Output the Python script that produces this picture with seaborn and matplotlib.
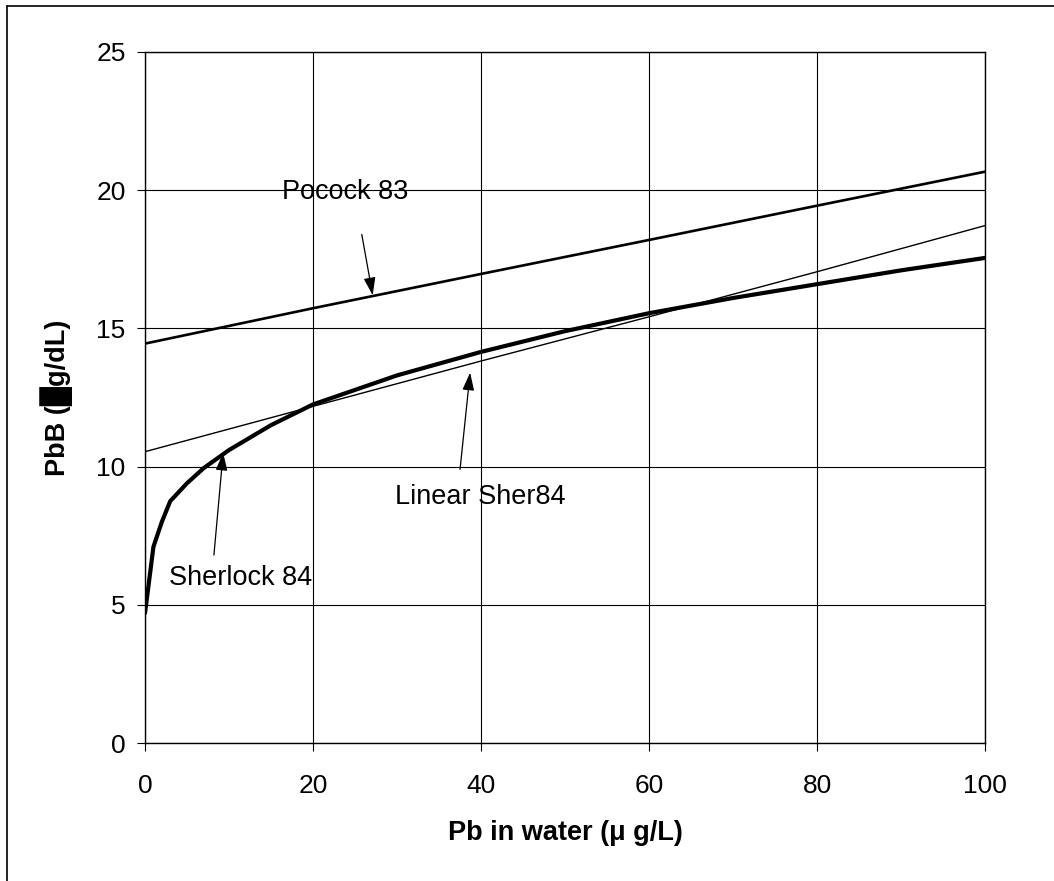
import matplotlib
matplotlib.use("Agg")
import matplotlib.pyplot as plt
import seaborn as sns
import pandas as pd
from matplotlib.lines import Line2D

# Pb in water (ug/L) vs blood lead (ug/dL)
sherlock_x = [0, 1, 2, 3, 5, 7, 10, 15, 20, 30, 40, 50, 60, 70, 80, 90, 100]
sherlock_y = [4.7, 7.1, 8.0, 8.75, 9.4, 9.95, 10.6, 11.5, 12.25, 13.3, 14.15,
              14.9, 15.55, 16.1, 16.6, 17.1, 17.55]
pocock_x = [0, 20, 40, 60, 80, 100]
pocock_y = [14.45, 15.73, 16.97, 18.2, 19.44, 20.67]
linear_x = [0, 20, 40, 60, 80, 100]
linear_y = [10.54, 12.18, 13.82, 15.42, 17.05, 18.72]

x_ticks = [0, 20, 40, 60, 80, 100]
y_ticks = [0, 5, 10, 15, 20, 25]

sns.set_theme(style="whitegrid")
plt.rcParams['font.family'] = ['Liberation Sans', 'DejaVu Sans']
plt.rcParams['text.color'] = 'black'
plt.rcParams['axes.labelcolor'] = 'black'


def main():
    fig = plt.figure(figsize=(10.54, 8.81), dpi=100)
    ax = fig.add_axes([0.1376, 0.1566, 0.797, 0.7844])

    df_sher = pd.DataFrame({'x': sherlock_x, 'y': sherlock_y})
    df_poc = pd.DataFrame({'x': pocock_x, 'y': pocock_y})
    df_lin = pd.DataFrame({'x': linear_x, 'y': linear_y})

    sns.lineplot(data=df_poc, x='x', y='y', ax=ax, color='black', linewidth=1.9)
    sns.lineplot(data=df_lin, x='x', y='y', ax=ax, color='black', linewidth=1.0)
    sns.lineplot(data=df_sher, x='x', y='y', ax=ax, color='black', linewidth=3.0)

    ax.set_xlim(0, 100)
    ax.set_ylim(0, 25)
    ax.set_xticks(x_ticks)
    ax.set_yticks(y_ticks)
    ax.set_facecolor('white')
    ax.grid(True, color='black', linewidth=0.8)
    for sp in ax.spines.values():
        sp.set_color('black')
        sp.set_linewidth(1.0)
    ax.tick_params(axis='both', which='major', labelsize=19, colors='black',
                   labelcolor='black', length=6, width=0.8, direction='out')
    ax.tick_params(axis='x', pad=16, bottom=True)
    ax.tick_params(axis='y', pad=8, left=True)

    ax.set_xlabel('Pb in water (\u03bc g/L)', fontsize=19.5, fontweight='bold')
    ax.set_ylabel('PbB (\u2588g/dL)', fontsize=19.5, fontweight='bold')
    ax.xaxis.set_label_coords(0.5, -0.13)
    ax.xaxis.label.set_va('center')
    ax.yaxis.set_label_coords(-0.105, 0.5)
    ax.yaxis.label.set_va('center')

    arrow = dict(arrowstyle='-|>,head_length=0.6,head_width=0.2', color='black',
                 lw=0.9, mutation_scale=18, shrinkA=0, shrinkB=0)
    ax.annotate('', xy=(27.1, 16.2), xytext=(25.8, 18.4), arrowprops=arrow)
    ax.annotate('', xy=(38.7, 13.4), xytext=(37.5, 9.9), arrowprops=arrow)
    ax.annotate('', xy=(9.3, 10.5), xytext=(8.2, 6.8), arrowprops=arrow)

    ax.text(16.3, 19.93, 'Pocock 83', fontsize=19.5, ha='left', va='center')
    ax.text(29.8, 8.9, 'Linear Sher84', fontsize=19.5, ha='left', va='center')
    ax.text(2.86, 5.97, 'Sherlock 84', fontsize=19.5, ha='left', va='center')

    # scanned page frame (left and top edges only)
    fig.add_artist(Line2D([7 / 1054, 7 / 1054], [0, 1 - 6 / 881],
                          transform=fig.transFigure, color='black', lw=1.2))
    fig.add_artist(Line2D([7 / 1054, 1], [1 - 6 / 881, 1 - 6 / 881],
                          transform=fig.transFigure, color='black', lw=1.2))

    fig.savefig('out.png', dpi=100, facecolor='white')
    plt.close(fig)


if __name__ == "__main__":
    main()
